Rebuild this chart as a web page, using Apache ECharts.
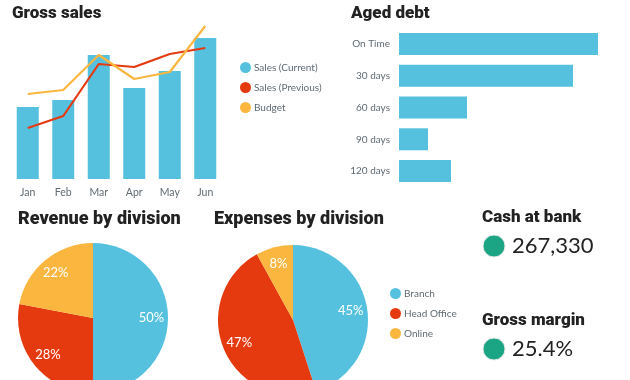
<!DOCTYPE html>
<html>
<head>
<meta charset="utf-8">
<script src="https://cdn.jsdelivr.net/npm/echarts@6/dist/echarts.min.js"></script>
<style>html,body{margin:0;padding:0;background:#fff;}#c{width:630px;height:380px;}</style>
</head>
<body>
<div id="c"></div>
<script>
// Gross sales
const months = ['Jan', 'Feb', 'Mar', 'Apr', 'May', 'Jun'];
const salesCurrent = [72, 79, 124, 91, 108, 141];
const salesPrevious = [51, 63, 115, 112, 125, 131];
const budget = [85, 89, 124, 100, 107, 153];
// Aged debt
const debtCategories = ['On Time', '30 days', '60 days', '90 days', '120 days'];
const debtValues = [199, 174, 68, 29, 52];
// Divisions
const divisions = ['Branch', 'Head Office', 'Online'];
const revenueShare = [50, 28, 22];
const expenseShare = [45, 47, 8];
// KPIs
const kpiTitles = ['Cash at bank', 'Gross margin'];
const kpiValues = ['267,330', '25.4%'];

const BLUE = '#55C1DF', RED = '#E5390F', ORANGE = '#FAB63F', GREEN = '#1BA584';
const TXT = '#5f6a72';
const titleFont = { fontFamily: 'Roboto', fontWeight: 900, fontSize: 17, color: '#222' };
const titleFontWide = { fontFamily: 'Roboto', fontWeight: 900, fontSize: 18, color: '#222' };

function pieData(vals) { return divisions.map((n, i) => ({ name: n, value: vals[i] })); }

const chart = echarts.init(document.getElementById('c'), null, { renderer: 'canvas' });
chart.setOption({
  animation: false,
  title: [
    { text: 'Gross sales', left: 12, top: 5, padding: 0, textStyle: titleFont },
    { text: 'Aged debt', left: 351, top: 5, padding: 0, textStyle: titleFont },
    { text: 'Revenue by division', left: 18, top: 210, padding: 0, textStyle: titleFontWide },
    { text: 'Expenses by division', left: 214, top: 210, padding: 0, textStyle: titleFontWide },
    { text: kpiTitles[0], left: 482, top: 209, padding: 0, textStyle: titleFont },
    { text: kpiTitles[1], left: 482, top: 312, padding: 0, textStyle: titleFont }
  ],
  legend: [
    {
      data: ['Sales (Current)', 'Sales (Previous)', 'Budget'],
      orient: 'vertical', left: 240, top: 62, padding: 0, icon: 'circle',
      itemWidth: 11, itemHeight: 11, itemGap: 9,
      textStyle: { color: TXT, fontSize: 10, fontFamily: 'Lato', padding: [0, 0, 0, -2] }
    },
    {
      data: [
        { name: 'Branch', itemStyle: { color: BLUE } },
        { name: 'Head Office', itemStyle: { color: RED } },
        { name: 'Online', itemStyle: { color: ORANGE } }
      ],
      orient: 'vertical', left: 390, top: 288, padding: 0, icon: 'circle',
      itemWidth: 11, itemHeight: 11, itemGap: 9,
      textStyle: { color: TXT, fontSize: 10, fontFamily: 'Lato', padding: [0, 0, 0, -2] }
    }
  ],
  grid: [
    { left: 10, right: 407, top: 19, bottom: 201 },
    { left: 399, right: 31, top: 28, bottom: 193 }
  ],
  xAxis: [
    {
      gridIndex: 0, type: 'category', data: months,
      axisLine: { show: false }, axisTick: { show: false },
      axisLabel: { color: TXT, fontSize: 10.5, fontFamily: 'Lato', margin: 8 }
    },
    { gridIndex: 1, type: 'value', min: 0, max: 200, show: false }
  ],
  yAxis: [
    { gridIndex: 0, type: 'value', min: 0, max: 160, show: false },
    {
      gridIndex: 1, type: 'category', data: debtCategories, inverse: true,
      axisLine: { show: false }, axisTick: { show: false },
      axisLabel: { color: TXT, fontSize: 10, fontFamily: 'Lato', margin: 9 }
    }
  ],
  series: [
    {
      name: 'Sales (Current)', type: 'bar', xAxisIndex: 0, yAxisIndex: 0,
      data: salesCurrent, barWidth: 22, itemStyle: { color: BLUE }
    },
    {
      name: 'Sales (Previous)', type: 'line', xAxisIndex: 0, yAxisIndex: 0,
      data: salesPrevious, showSymbol: false, symbol: 'none',
      lineStyle: { color: RED, width: 2.2 }, itemStyle: { color: RED }
    },
    {
      name: 'Budget', type: 'line', xAxisIndex: 0, yAxisIndex: 0,
      data: budget, showSymbol: false, symbol: 'none',
      lineStyle: { color: ORANGE, width: 2.2 }, itemStyle: { color: ORANGE }
    },
    {
      name: 'Aged debt', type: 'bar', xAxisIndex: 1, yAxisIndex: 1,
      data: debtValues, barWidth: 22, itemStyle: { color: BLUE }
    },
    {
      name: 'Revenue', type: 'pie', center: [93, 318], radius: 75,
      data: pieData(revenueShare), color: [BLUE, RED, ORANGE],
      label: { show: false }, labelLine: { show: false }, silent: true
    },
    {
      name: 'Expenses', type: 'pie', center: [293, 320], radius: 75,
      data: pieData(expenseShare), color: [BLUE, RED, ORANGE],
      label: { show: false }, labelLine: { show: false }, silent: true
    },
    {
      name: 'RevenueLabels', type: 'pie', center: [93, 318], radius: [36, 75],
      data: pieData(revenueShare), silent: true,
      itemStyle: { color: 'rgba(0,0,0,0)' },
      label: { show: true, position: 'inside', formatter: '{c}%', color: '#fff', fontSize: 13, fontFamily: 'Lato' },
      labelLine: { show: false }
    },
    {
      name: 'ExpenseLabels', type: 'pie', center: [293, 320], radius: [36, 75],
      data: pieData(expenseShare), silent: true,
      itemStyle: { color: 'rgba(0,0,0,0)' },
      label: { show: true, position: 'inside', formatter: '{c}%', color: '#fff', fontSize: 13, fontFamily: 'Lato' },
      labelLine: { show: false }
    }
  ],
  graphic: [
    { type: 'circle', shape: { cx: 494, cy: 246, r: 11 }, style: { fill: GREEN, stroke: '#e8e8e8', lineWidth: 1 } },
    { type: 'text', x: 512, y: 246, style: { text: kpiValues[0], fill: '#222', font: '22px Lato', textVerticalAlign: 'middle' } },
    { type: 'circle', shape: { cx: 494, cy: 349, r: 11 }, style: { fill: GREEN, stroke: '#e8e8e8', lineWidth: 1 } },
    { type: 'text', x: 512, y: 349, style: { text: kpiValues[1], fill: '#222', font: '22px Lato', textVerticalAlign: 'middle' } }
  ]
});
</script>
</body>
</html>
